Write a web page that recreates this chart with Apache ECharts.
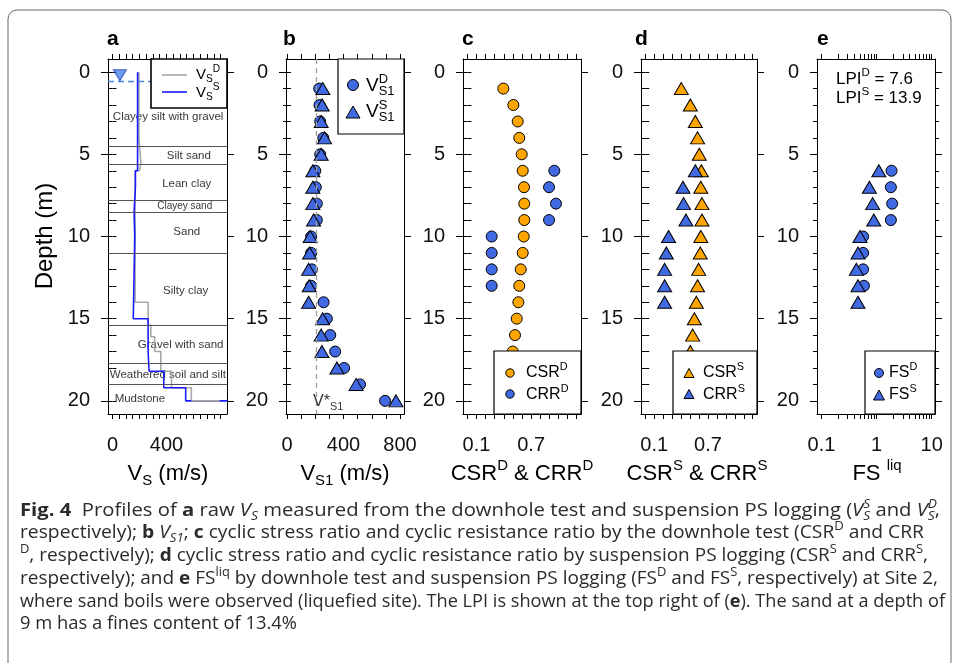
<!DOCTYPE html>
<html>
<head>
<meta charset="utf-8">
<script src="https://cdn.jsdelivr.net/npm/echarts@6/dist/echarts.min.js"></script>
<style>
  html, body { margin: 0; padding: 0; background: #fff; }
  #chart { width: 958px; height: 663px; }
</style>
</head>
<body>
<div id="chart"></div>
<script>
// ---------------- data ----------------
const depths = [1, 2, 3, 4, 5, 6, 7, 8, 9, 10, 11, 12, 13, 14, 15, 16, 17, 18, 19, 20];

// panel a: raw Vs profiles, [Vs (m/s), depth (m)] vertices of the step lines
const vsDownhole = [[196, 0], [196, 4], [210, 4], [210, 5.5], [200, 5.5], [200, 6], [168, 6], [168, 14],
  [264, 14], [264, 15.4], [284, 15.4], [284, 16.1], [313, 16.1], [313, 17], [358, 17], [358, 18.2],
  [437, 18.2], [437, 19.2], [584, 19.2], [584, 20], [794, 20]];
const vsSuspension = [[186, 0], [186, 6], [170, 6], [170, 7], [160, 7], [160, 8.5], [165, 8.5], [165, 10],
  [154, 10], [154, 15], [264, 15], [264, 17], [271, 17], [271, 18.2], [380, 18.2], [380, 19.2],
  [542, 19.2], [542, 20], [850, 20]];
const waterTable = 0.55;
const layerBottoms = [4.5, 5.6, 7.8, 8.5, 11.0, 15.4, 17.7, 19.0];
const layerNames = ['Clayey silt with gravel', 'Silt sand', 'Lean clay', 'Clayey sand', 'Sand',
  'Silty clay', 'Gravel with sand', 'Weathered soil and silt', 'Mudstone'];

// panel b: normalised Vs1 (m/s), depth 1..20
const vs1D = [228, 230, 235, 257, 235, 200, 204, 211, 211, 171, 171, 176, 171, 259, 282, 306, 341, 404, 517, 694];
const vs1S = [254, 249, 242, 266, 242, 183, 183, 183, 188, 164, 160, 153, 157, 153, 252, 242, 247, 353, 489, 771];
const vs1Star = 210;

// panel c: downhole CSR / CRR
const csrD = [0.395, 0.505, 0.553, 0.570, 0.597, 0.608, 0.622, 0.625, 0.625, 0.619, 0.608, 0.586, 0.570, 0.560, 0.542, 0.523, 0.498];
const crrDDepths = [6, 7, 8, 9, 10, 11, 12, 13];
const crrD = [0.955, 0.897, 0.973, 0.897, 0.267, 0.267, 0.267, 0.267];

// panel d: suspension CSR / CRR
const csrS = [0.402, 0.503, 0.559, 0.584, 0.603, 0.626, 0.620, 0.633, 0.633, 0.620, 0.614, 0.596, 0.584, 0.570, 0.548, 0.529, 0.503];
const crrSDepths = [6, 7, 8, 9, 10, 11, 12, 13, 14];
const crrS = [0.559, 0.421, 0.428, 0.454, 0.260, 0.235, 0.216, 0.216, 0.216];

// panel e: factor of safety
const fsDDepths = [6, 7, 8, 9, 10, 11, 12, 13];
const fsD = [1.87, 1.82, 1.92, 1.82, 0.57, 0.57, 0.57, 0.59];
const fsSDepths = [6, 7, 8, 9, 10, 11, 12, 13, 14];
const fsS = [1.10, 0.74, 0.85, 0.89, 0.50, 0.46, 0.43, 0.46, 0.46];
const lpiD = 7.6, lpiS = 13.9;

// axis ticks / labels
const range = (a, b, s) => { const r = []; for (let v = a; v <= b + 1e-9; v += s) r.push(+v.toFixed(6)); return r; };
const yMajor = [0, 5, 10, 15, 20];
const yMinor = range(0, 20, 1);
const logTicks = [0.1, 0.2, 0.3, 0.4, 0.5, 0.6, 0.7, 0.8, 0.9, 1, 2, 3, 4, 5, 6, 7, 8, 9, 10];
const xTicks = [range(0, 800, 50), range(0, 800, 100), range(0, 1.2, 0.1), range(0, 1.2, 0.1), logTicks];
const xLabels = [[0, 400], [0, 400, 800], [0.1, 0.7], [0.1, 0.7], [0.1, 1, 10]];
const xRanges = [[-33, 848], [-7, 828], [-0.048, 1.248], [-0.048, 1.248], [0.083, 11.5]];

// ---------------- layout ----------------
const FONT = "'Liberation Sans', Arial, sans-serif";
const CAP = "'Open Sans', sans-serif";
const TOP = 59, H = 355;
const boxes = [[108, 119], [286, 118], [463, 118], [641, 116], [817, 118]];

const grid = [], xAxis = [], yAxis = [];
boxes.forEach(([left, width], i) => {
  grid.push({ left, top: TOP, width, height: H, containLabel: false, outerBoundsMode: 'none' });
  const line = { show: true, onZero: false, lineStyle: { color: '#000', width: 1 } };
  const xb = { gridIndex: i, type: i === 4 ? 'log' : 'value', logBase: 10, min: xRanges[i][0], max: xRanges[i][1],
    splitLine: { show: false }, axisLine: line };
  xAxis.push({ ...xb, position: 'bottom',
    axisTick: { customValues: xTicks[i], length: 5, lineStyle: { color: '#000' } },
    axisLabel: { customValues: xLabels[i], fontSize: 20, fontFamily: FONT, color: '#111', margin: 21 } });
  xAxis.push({ ...xb, position: 'top',
    axisTick: { customValues: xTicks[i], length: 5, lineStyle: { color: '#000' } },
    axisLabel: { show: false } });
  const yb = { gridIndex: i, type: 'value', inverse: true, min: -0.8, max: 20.8, splitLine: { show: false } };
  yAxis.push({ ...yb, position: 'left', axisLine: line,
    axisTick: { customValues: yMajor, length: 7, lineStyle: { color: '#000' } },
    axisLabel: { customValues: yMajor, fontSize: 20, fontFamily: FONT, color: '#111', margin: 18 } });
  yAxis.push({ ...yb, position: 'left', axisLine: { show: false },
    axisTick: { customValues: yMinor, length: 4, lineStyle: { color: '#000' } }, axisLabel: { show: false } });
  yAxis.push({ ...yb, position: 'right', axisLine: line,
    axisTick: { customValues: yMajor, length: 7, lineStyle: { color: '#000' } }, axisLabel: { show: false } });
  yAxis.push({ ...yb, position: 'right', axisLine: { show: false },
    axisTick: { customValues: yMinor, length: 4, lineStyle: { color: '#000' } }, axisLabel: { show: false } });
});

const ORANGE = '#ffa500', BLUE = '#4169e1';
const pts = (vals, ds) => vals.map((v, k) => [v, ds[k]]);
const on = (i) => ({ xAxisIndex: 2 * i, yAxisIndex: 4 * i, silent: true, animation: false });
const circ = (color, data) => ({ type: 'scatter', data, symbol: 'circle', symbolSize: 11, z: 3,
  itemStyle: { color, borderColor: '#000', borderWidth: 1, opacity: 1 } });
const tri = (color, data) => ({ type: 'scatter', data, symbol: 'triangle', symbolSize: [14, 12], z: 4,
  itemStyle: { color, borderColor: '#000', borderWidth: 1, opacity: 1 } });

// label anchor points for soil layers [Vs, depth]
const layerLabelAt = [[412, 2.7], [565, 5.1], [550, 6.8], [535, 8.15], [550, 9.7], [542, 13.3], [505, 16.6], [410, 18.4], [203, 19.85]];

const series = [
  { ...on(0), type: 'scatter', z: 1, symbol: 'rect', symbolSize: 1, itemStyle: { color: 'rgba(0,0,0,0)' },
    data: layerNames.map((n, k) => ({ name: n, value: layerLabelAt[k],
      label: { fontSize: n === 'Clayey sand' ? 10 : 11.5 } })),
    label: { show: true, position: 'inside', formatter: '{b}', color: '#000', fontFamily: FONT, fontSize: 11.5 },
    markLine: { silent: true, symbol: ['none', 'none'], label: { show: false }, animation: false,
      lineStyle: { color: '#555', width: 1, type: 'solid' },
      data: layerBottoms.map(d => ({ yAxis: d })).concat([{ yAxis: waterTable, lineStyle: { color: '#4a86e8', type: [6, 4], width: 1.3 } }]) } },
  { ...on(0), type: 'line', data: vsDownhole, symbol: 'none', z: 2, lineStyle: { color: '#a8a8a8', width: 1.6 } },
  { ...on(0), type: 'line', data: vsSuspension, symbol: 'none', z: 3, lineStyle: { color: '#1a1aff', width: 1.6 } },
  { ...on(0), type: 'line', data: vsDownhole.slice(-2), symbol: 'none', z: 4, lineStyle: { color: '#a8a8a8', width: 1.6 } },
  { ...on(0), type: 'scatter', data: [[55, waterTable]], symbol: 'triangle', symbolRotate: 180, symbolSize: [13, 11],
    symbolOffset: [0, -6], z: 5, itemStyle: { color: '#4a86e8', borderColor: '#1f3fbf', borderWidth: 1 } },

  { ...on(1), ...circ(BLUE, pts(vs1D, depths)),
    markLine: { silent: true, symbol: ['none', 'none'], label: { show: false }, animation: false,
      lineStyle: { color: '#a0a0a0', width: 1.3, type: [5, 4] }, data: [{ xAxis: vs1Star }] } },
  { ...on(1), ...tri(BLUE, pts(vs1S, depths)) },

  { ...on(2), ...circ(ORANGE, pts(csrD, depths)) },
  { ...on(2), ...circ(BLUE, pts(crrD, crrDDepths)) },

  { ...on(3), ...tri(ORANGE, pts(csrS, depths)) },
  { ...on(3), ...tri(BLUE, pts(crrS, crrSDepths)) },

  { ...on(4), ...circ(BLUE, pts(fsD, fsDDepths)) },
  { ...on(4), ...tri(BLUE, pts(fsS, fsSDepths)) },
];

// ---------------- text helpers ----------------
const ctx = document.createElement('canvas').getContext('2d');
function tw(t, st, wt, size, fam) { ctx.font = `${st} ${wt} ${size}px ${fam}`; return ctx.measureText(t).width; }
function seqItems(parts, fs, fam) {
  const items = []; let cx = 0;
  parts.forEach(([t, k]) => {
    let size = fs, dy = 0, wt = 'normal', st = 'normal';
    if (k.includes('sup')) { size = fs * 0.68; dy = -fs * 0.36; }
    if (k.includes('sub')) { size = fs * 0.68; dy = fs * 0.3; }
    if (k[0] === 'b') wt = 'bold';
    if (k[0] === 'i') st = 'italic';
    items.push({ t, x: cx, dy, size, wt, st });
    if (!k.includes('0')) cx += tw(t, st, wt, size, fam);
  });
  return { items, width: cx };
}
function seq(x, y, parts, fs, o = {}) {
  const fam = o.family || FONT, color = o.color || '#000';
  const { items, width } = seqItems(parts, fs, fam);
  const off = o.align === 'center' ? -width / 2 : 0;
  return items.map(it => ({ type: 'text', z: 100, x: x + off + it.x, y: y + it.dy,
    style: { text: it.t, fontSize: it.size, fontFamily: fam, fontWeight: it.wt, fontStyle: it.st,
      fill: color, align: 'left', verticalAlign: 'middle' } }));
}
const rect = (x, y, w, h, lw = 1.2) => ({ type: 'rect', z: 99, shape: { x, y, width: w, height: h },
  style: { fill: '#fff', stroke: '#000', lineWidth: lw } });
const gCircle = (cx, cy, r, fill) => ({ type: 'circle', z: 100, shape: { cx, cy, r }, style: { fill, stroke: '#000', lineWidth: 1 } });
const gTri = (cx, cy, w, h, fill) => ({ type: 'polygon', z: 100,
  shape: { points: [[cx, cy - h / 2], [cx + w / 2, cy + h / 2], [cx - w / 2, cy + h / 2]] },
  style: { fill, stroke: '#000', lineWidth: 1 } });
const gLine = (x1, y1, x2, y2, stroke) => ({ type: 'line', z: 100, shape: { x1, y1, x2, y2 }, style: { stroke, lineWidth: 1.6 } });

const graphics = [
  { type: 'rect', z: 0, shape: { x: 8, y: 10, width: 943, height: 700, r: 9 }, style: { fill: 'none', stroke: '#666', lineWidth: 1 } },
  { type: 'text', z: 100, x: 45, y: 236, rotation: Math.PI / 2,
    style: { text: 'Depth (m)', fontSize: 24, fontFamily: FONT, fill: '#000', align: 'center', verticalAlign: 'middle' } },
];
[['a', 107], ['b', 283], ['c', 462], ['d', 635], ['e', 817]].forEach(([t, x]) => graphics.push({ type: 'text', z: 100, x, y: 39,
  style: { text: t, fontSize: 21, fontWeight: 'bold', fontFamily: FONT, fill: '#000', align: 'left', verticalAlign: 'middle' } }));

// axis titles
graphics.push(
  ...seq(168, 474, [['V', 'n'], ['S', 'sub'], [' (m/s)', 'n']], 22, { align: 'center' }),
  ...seq(345, 474, [['V', 'n'], ['S1', 'sub'], [' (m/s)', 'n']], 22, { align: 'center' }),
  ...seq(522, 474, [['CSR', 'n'], ['D', 'sup'], [' & CRR', 'n'], ['D', 'sup']], 22, { align: 'center' }),
  ...seq(697, 474, [['CSR', 'n'], ['S', 'sup'], [' & CRR', 'n'], ['S', 'sup']], 22, { align: 'center' }),
  ...seq(877, 474, [['FS ', 'n'], ['liq', 'sup']], 22, { align: 'center' }),
);

// legends
graphics.push(
  rect(151, 59, 76, 49, 1.6), gLine(162, 75, 187, 75, '#a8a8a8'), gLine(162, 92, 187, 92, '#1a1aff'),
  ...seq(196, 75, [['V', 'n'], ['S', 'sub'], ['D', 'sup']], 15),
  ...seq(196, 93, [['V', 'n'], ['S', 'sub'], ['S', 'sup']], 15),

  rect(338, 59, 66, 75), gCircle(353, 85, 5.5, BLUE), gTri(353, 112, 14, 12, BLUE),
  ...seq(366, 86, [['V', 'n'], ['D', 'sup0'], ['S1', 'sub']], 19),
  ...seq(366, 112, [['V', 'n'], ['S', 'sup0'], ['S1', 'sub']], 19),

  rect(494, 351, 87, 63), gCircle(510, 373, 4.2, ORANGE), gCircle(510, 394, 4.2, BLUE),
  ...seq(526, 373, [['CSR', 'n'], ['D', 'sup']], 16),
  ...seq(526, 395, [['CRR', 'n'], ['D', 'sup']], 16),

  rect(673, 351, 84, 63), gTri(689, 373, 10, 9, ORANGE), gTri(689, 394, 10, 9, BLUE),
  ...seq(703, 373, [['CSR', 'n'], ['S', 'sup']], 16),
  ...seq(703, 395, [['CRR', 'n'], ['S', 'sup']], 16),

  rect(865, 351, 70, 63), gCircle(879, 373, 4.5, BLUE), gTri(879, 395, 11, 10, BLUE),
  ...seq(889, 373, [['FS', 'n'], ['D', 'sup']], 16),
  ...seq(889, 395, [['FS', 'n'], ['S', 'sup']], 16),

  ...seq(313, 402, [['V*', 'n'], ['S1', 'sub']], 16, { color: '#333' }),
  ...seq(836, 79, [['LPI', 'n'], ['D', 'sup'], [' = ' + lpiD, 'n']], 17),
  ...seq(836, 98, [['LPI', 'n'], ['S', 'sup'], [' = ' + lpiS, 'n']], 17),
);

// caption
const captionLines = [
  [['Fig. 4', 'b'], ['  Profiles of ', 'n'], ['a', 'b'], [' raw ', 'n'], ['V', 'i'], ['S', 'isub'],
    [' measured from the downhole test and suspension PS logging (', 'n'], ['V', 'i'], ['S', 'isup0'], ['S', 'isub'],
    [' and ', 'n'], ['V', 'i'], ['D', 'isup0'], ['S', 'isub'], [',', 'n']],
  [['respectively); ', 'n'], ['b', 'b'], [' ', 'n'], ['V', 'i'], ['S1', 'isub'], ['; ', 'n'], ['c', 'b'],
    [' cyclic stress ratio and cyclic resistance ratio by the downhole test (CSR', 'n'], ['D', 'sup'], [' and CRR', 'n']],
  [['D', 'sup'], [', respectively); ', 'n'], ['d', 'b'],
    [' cyclic stress ratio and cyclic resistance ratio by suspension PS logging (CSR', 'n'], ['S', 'sup'],
    [' and CRR', 'n'], ['S', 'sup'], [',', 'n']],
  [['respectively); and ', 'n'], ['e', 'b'], [' FS', 'n'], ['liq', 'sup'],
    [' by downhole test and suspension PS logging (FS', 'n'], ['D', 'sup'], [' and FS', 'n'], ['S', 'sup'],
    [', respectively) at Site 2,', 'n']],
  [['where sand boils were observed (liquefied site). The LPI is shown at the top right of (', 'n'], ['e', 'b'],
    ['). The sand at a depth of', 'n']],
  [['9 m has a fines content of 13.4%', 'n']],
];
const captionY = [511, 533, 556, 579, 602, 624];
const captionEnd = [940, 924, 928, 938, 945, 0];
captionLines.forEach((parts, k) => {
  const { width } = seqItems(parts, 18, CAP);
  const sx = captionEnd[k] ? (captionEnd[k] - 20) / width : 1.02;
  graphics.push({ type: 'group', x: 20, y: captionY[k], scaleX: sx,
    children: seq(0, 0, parts, 18, { family: CAP, color: '#2b2b2b' }) });
});

const chart = echarts.init(document.getElementById('chart'), null, { width: 958, height: 663, renderer: 'canvas' });
chart.setOption({
  backgroundColor: '#fff',
  animation: false,
  grid, xAxis, yAxis, series,
  graphic: { elements: graphics },
});
</script>
</body>
</html>
